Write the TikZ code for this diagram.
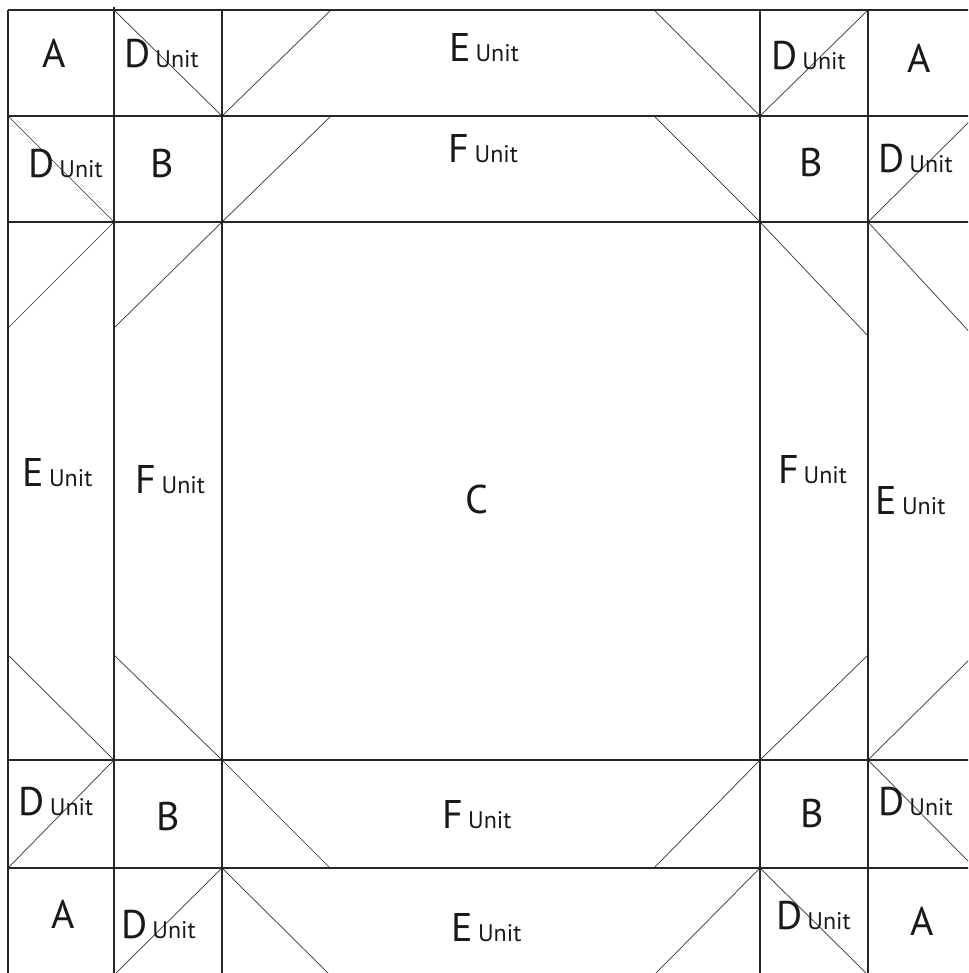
\documentclass[tikz,border=0pt]{standalone}
\usepackage{fontspec}
\newfontfamily\lblfont{PT Sans}
\newcommand\bigltr[1]{{\lblfont\fontsize{40}{44}\selectfont #1}}
\newcommand\unitlbl[1]{{\lblfont\fontsize{40}{44}\selectfont #1}\hspace{5pt}{\lblfont\fontsize{24}{26}\selectfont Unit}}
\begin{document}
\begin{tikzpicture}[x=1pt,y=-1pt,
  gridline/.style={line width=1.4pt,draw=black!85},
  diag/.style={line width=0.7pt,draw=black!80},
  lbl/.style={anchor=base,inner sep=0pt,text=black!90}]
\useasboundingbox (0,0) rectangle (968,973);
\clip (0,0) rectangle (968,973);
\fill[white] (0,0) rectangle (968,973);
% grid coordinates
\def\Xa{8}\def\Xb{114}\def\Xc{222}\def\Xd{760}\def\Xe{868}\def\Xf{975}
\def\Ya{10}\def\Yb{116}\def\Yc{222}\def\Yd{760}\def\Ye{868}\def\Yf{975}
% diagonals
\begin{scope}[diag]
% top row
\draw (\Xb,\Ya) -- (\Xc,\Yb);
\draw (\Xc,\Yb) -- (331,\Ya);
\draw (654,\Ya) -- (\Xd,\Yb);
\draw (\Xd,\Yb) -- (\Xe,\Ya);
% second row
\draw (\Xa,\Yb) -- (\Xb,\Yc);
\draw (\Xc,\Yc) -- (331,\Yb);
\draw (654,\Yb) -- (\Xd,\Yc);
\draw (\Xe,\Yc) -- (\Xf,\Yb);
% left columns
\draw (\Xa,328) -- (\Xb,\Yc);
\draw (\Xa,655) -- (\Xb,\Yd);
\draw (\Xb,328) -- (\Xc,\Yc);
\draw (\Xb,655) -- (\Xc,\Yd);
% right columns
\draw (\Xd,\Yc) -- (\Xe,336);
\draw (\Xd,\Yd) -- (\Xe,655);
\draw (\Xe,\Yc) -- (\Xf,338);
\draw (\Xe,\Yd) -- (\Xf,654);
% fourth row
\draw (\Xa,\Ye) -- (\Xb,\Yd);
\draw (\Xc,\Yd) -- (330,\Ye);
\draw (654,\Ye) -- (\Xd,\Yd);
\draw (\Xe,\Yd) -- (\Xf,\Ye);
% bottom row
\draw (\Xb,\Yf) -- (\Xc,\Ye);
\draw (\Xc,\Ye) -- (330,\Yf);
\draw (\Xd,\Ye) -- (654,\Yf);
\draw (\Xd,\Ye) -- (\Xe,\Yf);
\end{scope}
% grid lines
\begin{scope}[gridline]
\draw (\Xa,\Ya) -- (\Xf,\Ya);
\draw (\Xa,\Yb) -- (\Xf,\Yb);
\draw (\Xa,\Yc) -- (\Xf,\Yc);
\draw (\Xa,\Yd) -- (\Xf,\Yd);
\draw (\Xa,\Ye) -- (\Xf,\Ye);
\draw (\Xa,\Ya) -- (\Xa,\Yf);
\draw (\Xb,7) -- (\Xb,\Yf);
\draw (\Xc,\Ya) -- (\Xc,\Yf);
\draw (\Xd,\Ya) -- (\Xd,\Yf);
\draw (\Xe,\Ya) -- (\Xe,\Yf);
\end{scope}
% labels
\node[lbl] (aTL) at (54,68) {\bigltr{A}};
\node[lbl] (dT1) at (161.5,68) {\unitlbl{D}};
\node[lbl] (eT) at (484,62) {\unitlbl{E}};
\node[lbl] (dT2) at (808.5,70) {\unitlbl{D}};
\node[lbl] (aTR) at (919,73) {\bigltr{A}};
\node[lbl] (dL1) at (65.5,178) {\unitlbl{D}};
\node[lbl] (bTL) at (162,178) {\bigltr{B}};
\node[lbl] (fT) at (483.5,163) {\unitlbl{F}};
\node[lbl] (bTR) at (811.5,177) {\bigltr{B}};
\node[lbl] (dR1) at (915.5,173) {\unitlbl{D}};
\node[lbl] (eL) at (57.5,486) {\unitlbl{E}};
\node[lbl] (fL) at (170.5,493) {\unitlbl{F}};
\node[lbl] (c) at (477,513) {\bigltr{C}};
\node[lbl] (fR) at (812.5,483) {\unitlbl{F}};
\node[lbl] (eR) at (910.5,514) {\unitlbl{E}};
\node[lbl] (dL2) at (56,815) {\unitlbl{D}};
\node[lbl] (bBL) at (168.5,830) {\bigltr{B}};
\node[lbl] (fB) at (477,828) {\unitlbl{F}};
\node[lbl] (bBR) at (812,827) {\bigltr{B}};
\node[lbl] (dR2) at (915.5,815) {\unitlbl{D}};
\node[lbl] (aBL) at (63,928) {\bigltr{A}};
\node[lbl] (dB1) at (158.5,938) {\unitlbl{D}};
\node[lbl] (eB) at (486.5,941) {\unitlbl{E}};
\node[lbl] (dB2) at (813.5,929) {\unitlbl{D}};
\node[lbl] (aBR) at (922.5,935) {\bigltr{A}};
\end{tikzpicture}
\end{document}
